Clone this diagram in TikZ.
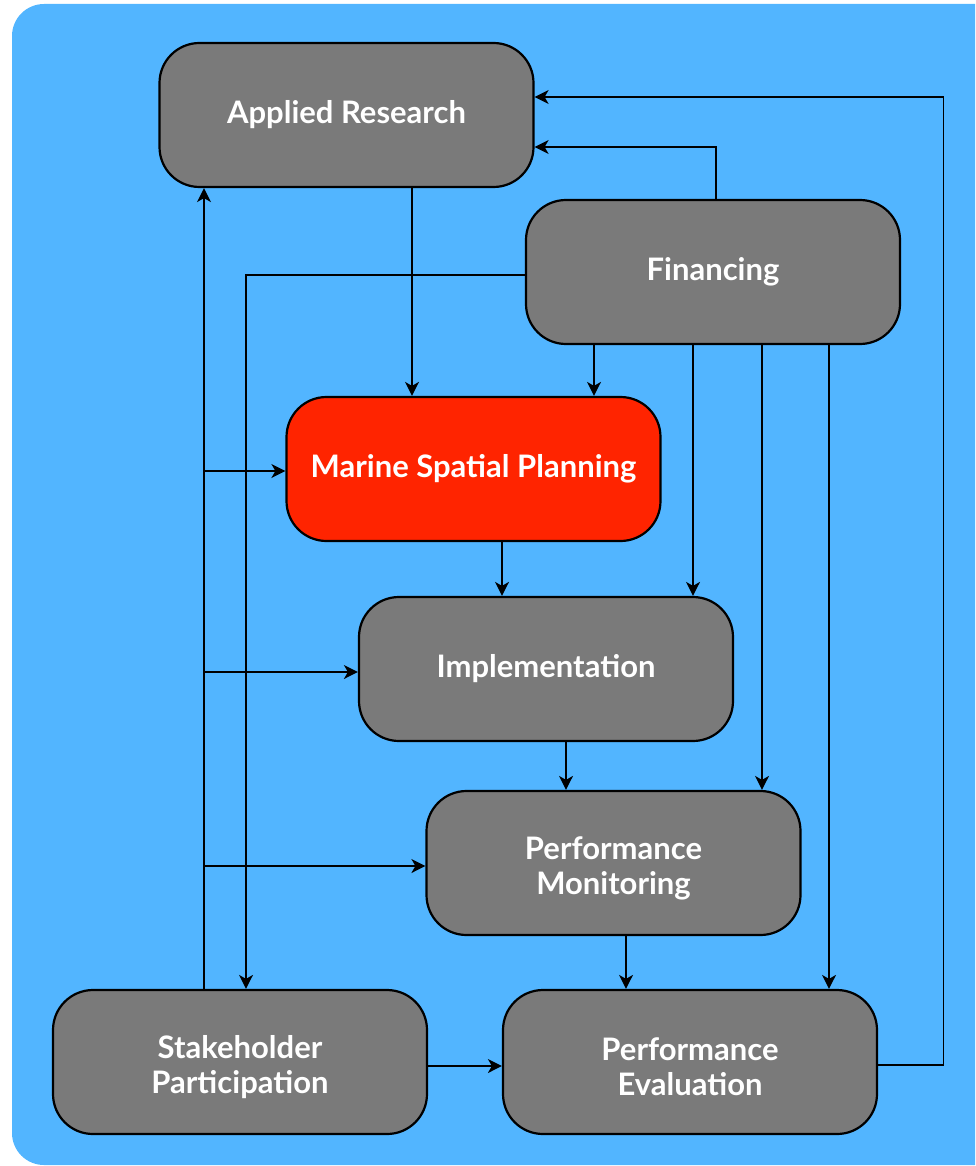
\documentclass[tikz,border=0pt]{standalone}
\usepackage{fontspec}
\setmainfont{Lato}
\usepackage{tikz}
\usetikzlibrary{%
  calc,%
  arrows.meta%
}
\definecolor{bgblue}{RGB}{82,181,255}
\definecolor{boxgray}{RGB}{122,122,122}
\definecolor{mspred}{RGB}{255,36,0}

\tikzset{
  stage/.style={draw=black, line width=1.1pt, fill=boxgray, rounded corners=20pt,
    minimum width=187pt, minimum height=72pt, align=center, text=white,
    font=\fontsize{15.5}{17.5}\selectfont\bfseries},
  stagetext/.style={align=center, text=white, yshift=-2.5pt,
    font=\fontsize{15.5}{17.5}\selectfont\bfseries},
  arr/.style={line width=0.8pt, -{Stealth[length=7pt,width=7pt,inset=2pt]}}
}

\begin{document}
\begin{tikzpicture}[x=0.5pt,y=-0.5pt]
\useasboundingbox (0,0) rectangle (975,1166);
\begin{scope}
\clip (0,0) rectangle (975,1166);
\fill[bgblue, rounded corners=16pt] (12,4) rectangle (1020,1165);
\end{scope}

\node[stage] (ar) at (346.5,115) {Applied Research};
\node[stage] (fin) at (713,272) {Financing};
\node[stage, fill=mspred] (msp) at (473.5,469) {Marine Spatial Planning};
\node[stage] (impl) at (546,669) {Implementation};
\node[stage, label={[stagetext]center:Performance\\Monitoring}] (pm) at (613.5,863) {};
\node[stage, label={[stagetext]center:Stakeholder\\Participation}] (sp) at (240,1062) {};
\node[stage, label={[stagetext]center:Performance\\Evaluation}] (pe) at (690,1062) {};

% feedback loops to research
\draw[arr] ($(pe.east)+(0,3)$) -| ($(ar.east)+(409,-18)$) -- ($(ar.east)+(0,-18)$);
\draw[arr] ($(fin.north)+(3,0)$) |- ($(ar.east)+(0,32)$);
\draw[arr] ($(ar.south)+(65.5,0)$) coordinate (a1) -- (a1 |- msp.north);

% financing
\draw[arr] ($(fin.west)+(0,3)$) -| ($(sp.north)+(6,0)$);
\draw[arr] ($(fin.south)+(-119,0)$) coordinate (f1) -- (f1 |- msp.north);
\draw[arr] ($(fin.south)+(-20,0)$) coordinate (f2) -- (f2 |- impl.north);
\draw[arr] ($(fin.south)+(49,0)$) coordinate (f3) -- (f3 |- pm.north);
\draw[arr] ($(fin.south)+(116,0)$) coordinate (f4) -- (f4 |- pe.north);

% stakeholders
\coordinate (trunk) at ($(sp.north)+(-36,0)$);
\draw[arr] (trunk) -- (trunk |- ar.south);
\draw[arr] ($(trunk |- msp.west)+(0,2)$) -- ($(msp.west)+(0,2)$);
\draw[arr] ($(trunk |- impl.west)+(0,3)$) -- ($(impl.west)+(0,3)$);
\draw[arr] ($(trunk |- pm.west)+(0,3)$) -- ($(pm.west)+(0,3)$);
\draw[arr] ($(sp.east)+(0,4)$) -- ($(pe.west)+(0,4)$);

% main chain
\draw[arr] ($(msp.south)+(28.5,0)$) coordinate (m1) -- (m1 |- impl.north);
\draw[arr] ($(impl.south)+(20,0)$) coordinate (i1) -- (i1 |- pm.north);
\draw[arr] ($(pm.south)+(12.5,0)$) coordinate (p1) -- (p1 |- pe.north);
\end{tikzpicture}
\end{document}
